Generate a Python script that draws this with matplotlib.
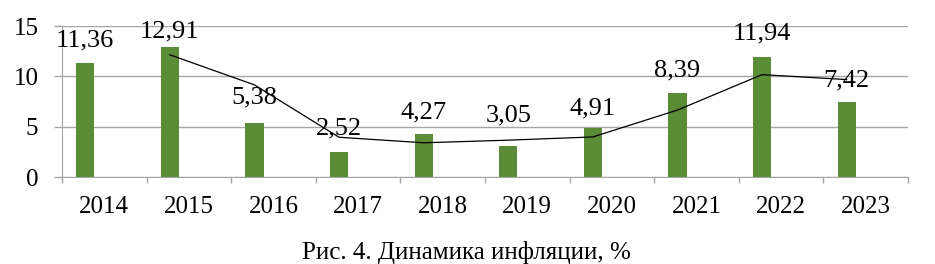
import matplotlib
matplotlib.use("Agg")
import matplotlib.pyplot as plt
import numpy as np

years = ["2014", "2015", "2016", "2017", "2018", "2019", "2020", "2021", "2022", "2023"]
inflation = [11.36, 12.91, 5.38, 2.52, 4.27, 3.05, 4.91, 8.39, 11.94, 7.42]
labels = ["11,36", "12,91", "5,38", "2,52", "4,27", "3,05", "4,91", "8,39", "11,94", "7,42"]
# trend line (2-period moving average), 2015..2023
trend = [12.14, 9.15, 3.95, 3.40, 3.66, 3.98, 6.65, 10.17, 9.68]

# label lift above bar top, pixels
label_lift = [16, 10, 19, 17, 16, 25, 13, 16, 17, 16]

plt.rcParams["font.family"] = ["Liberation Serif", "DejaVu Serif"]

green = "#5B8D36"
grid_c = "#A6A6A6"

fig = plt.figure(figsize=(9.35, 2.64), dpi=100)
ax = fig.add_axes([0.0663, 0.3295, 0.9048, 0.572])

x = np.arange(len(years))
bx = x - 0.225
ax.bar(bx, inflation, width=0.215, color=green, zorder=3)
ax.plot(bx[1:], trend, color="black", lw=0.9, zorder=4)

for xi, v, lab, lift in zip(bx, inflation, labels, label_lift):
    ax.annotate(lab, (xi, v), xytext=(0, lift), textcoords="offset pixels",
                ha="center", va="baseline", fontsize=19, zorder=5)

ax.set_xlim(-0.5, len(years) - 0.5)
ax.set_ylim(0, 15)
ax.set_yticks([0, 5, 10, 15])
ax.yaxis.grid(True, color=grid_c, lw=1, zorder=0)

ax.set_xticks(x)
ax.set_xticklabels(years)
ax.set_xticks(np.arange(len(years) + 1) - 0.5, minor=True)
ax.tick_params(axis="x", which="major", length=0, pad=14, labelsize=18)
ax.tick_params(axis="x", which="minor", length=4.5, color=grid_c, width=1)
ax.tick_params(axis="y", length=6, color=grid_c, width=1, pad=11, labelsize=18)

for s in ["top", "right"]:
    ax.spines[s].set_visible(False)
ax.spines["left"].set_color(grid_c)
ax.spines["bottom"].set_color(grid_c)

fig.text(0.499, 0.019, "Рис. 4. Динамика инфляции, %", ha="center", va="baseline", fontsize=18)

fig.savefig("out.png", dpi=100)
